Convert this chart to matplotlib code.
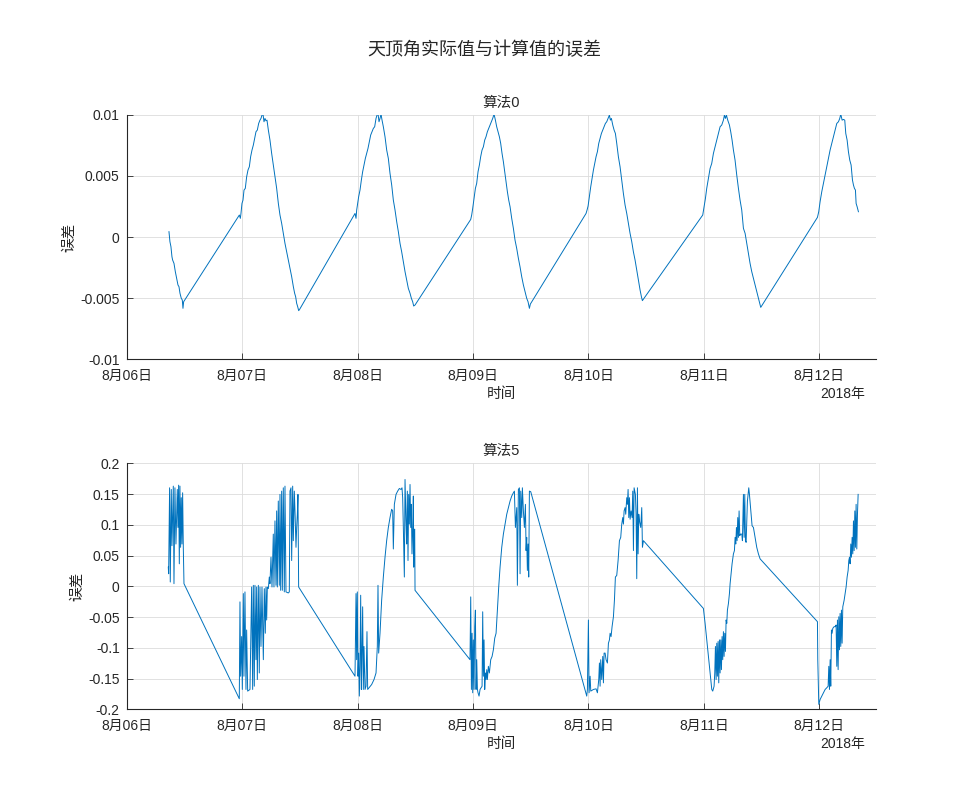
import datetime as dt
import matplotlib
matplotlib.use("Agg")
import matplotlib.pyplot as plt
import matplotlib.dates as mdates
from matplotlib.ticker import FixedLocator, FuncFormatter

plt.rcParams['font.family'] = ['Liberation Sans', 'Noto Sans CJK SC', 'DejaVu Sans']

# Reference instant of the time axis
t0 = dt.datetime(2018, 8, 6)

# ---------------- 算法0: hours after t0 and zenith-angle error ----------------
alg0_hours = [
    8.80, 9.00, 9.21, 9.42, 9.56, 9.84, 10.12, 10.39, 10.67, 10.88, 11.09, 11.36, 11.57, 11.71, 11.85,
    23.43, 23.64, 23.77, 23.98, 24.19, 24.40, 24.67, 24.95, 25.23, 25.51, 25.78, 26.06, 26.34, 26.61,
    26.89, 27.17, 27.45, 27.72, 27.93, 28.14, 28.35, 28.56, 28.76, 28.97, 29.18, 29.46, 29.80, 30.15,
    30.50, 30.84, 31.19, 31.54, 31.88, 32.23, 32.58, 32.92, 33.27, 33.62, 33.96, 34.31, 34.66, 34.93,
    35.14, 35.35, 35.56, 35.77, 35.97,
    47.48, 47.69, 47.83, 48.03, 48.24, 48.52, 48.80, 49.07, 49.35, 49.63, 49.91, 50.18, 50.46, 50.74,
    51.02, 51.29, 51.57, 51.85, 52.06, 52.26, 52.47, 52.68, 52.89, 53.10, 53.37, 53.72, 54.07, 54.41,
    54.76, 55.11, 55.45, 55.80, 56.15, 56.49, 56.84, 57.18, 57.53, 57.88, 58.22, 58.57, 58.92, 59.20,
    59.47, 59.68, 59.96,
    71.54, 71.74, 71.95, 72.23, 72.51, 72.78, 73.06, 73.34, 73.61, 73.89, 74.17, 74.45, 74.72, 75.00,
    75.28, 75.56, 75.83, 76.11, 76.39, 76.67, 76.94, 77.22, 77.50, 77.77, 78.05, 78.33, 78.61, 78.88,
    79.16, 79.44, 79.72, 80.06, 80.41, 80.75, 81.10, 81.45, 81.79, 82.14, 82.49, 82.83, 83.18, 83.46,
    83.74, 83.94,
    95.52, 95.73, 95.94, 96.21, 96.49, 96.77, 97.05, 97.32, 97.60, 97.88, 98.16, 98.43, 98.71, 98.99,
    99.27, 99.54, 99.82, 100.10, 100.37, 100.58, 100.79, 101.07, 101.35, 101.62, 101.90, 102.24,
    102.59, 102.94, 103.28, 103.63, 103.98, 104.32, 104.67, 105.02, 105.36, 105.71, 106.06, 106.40,
    106.75, 107.03, 107.23,
    119.78, 120.06, 120.34, 120.61, 120.96, 121.31, 121.65, 122.00, 122.35, 122.69, 123.04, 123.39,
    123.73, 124.08, 124.29, 124.50, 124.70, 124.98, 125.33, 125.60, 125.88, 126.16, 126.50, 126.85,
    127.20, 127.54, 127.89, 128.24, 128.59, 128.93, 129.28, 129.62, 129.97, 130.32, 130.66, 131.01,
    131.36, 131.64, 131.84,
    143.63, 143.90, 144.18, 144.53, 144.88, 145.22, 145.57, 145.92, 146.26, 146.61, 146.96, 147.30,
    147.65, 148.00, 148.27, 148.48, 148.76, 149.04, 149.31, 149.52, 149.80, 150.07, 150.35, 150.63,
    150.91, 151.12, 151.32, 151.53, 151.67, 151.88, 152.15,
]
alg0_err = [
    0.00044, -0.00038, -0.00079, -0.00161, -0.00188, -0.00215, -0.00283, -0.00338, -0.00392, -0.00406,
    -0.00460, -0.00501, -0.00515, -0.00583, -0.00529,
    0.00180, 0.00153, 0.00193, 0.00275, 0.00302, 0.00384, 0.00398, 0.00493, 0.00548, 0.00575, 0.00657,
    0.00711, 0.00752, 0.00807, 0.00861, 0.00875, 0.00929, 0.00956, 0.00970, 0.00997, 0.01005, 0.00943,
    0.00970, 0.00951, 0.00956, 0.00875, 0.00793, 0.00684, 0.00589, 0.00493, 0.00398, 0.00275, 0.00180,
    0.00112, 0.00030, -0.00052, -0.00120, -0.00188, -0.00256, -0.00324, -0.00406, -0.00460, -0.00488,
    -0.00542, -0.00569, -0.00602, -0.00591,
    0.00193, 0.00153, 0.00221, 0.00275, 0.00330, 0.00384, 0.00466, 0.00534, 0.00589, 0.00643, 0.00684,
    0.00725, 0.00779, 0.00834, 0.00861, 0.00888, 0.00902, 0.00970, 0.00997, 0.01011, 0.00943, 0.00970,
    0.01005, 0.00956, 0.00902, 0.00820, 0.00711, 0.00643, 0.00520, 0.00425, 0.00302, 0.00221, 0.00125,
    0.00044, -0.00052, -0.00120, -0.00202, -0.00283, -0.00351, -0.00420, -0.00460, -0.00501, -0.00529,
    -0.00564, -0.00556,
    0.00144, 0.00180, 0.00234, 0.00316, 0.00398, 0.00439, 0.00534, 0.00589, 0.00657, 0.00711, 0.00738,
    0.00793, 0.00820, 0.00861, 0.00888, 0.00916, 0.00943, 0.00970, 0.01005, 0.00956, 0.00902, 0.00861,
    0.00820, 0.00766, 0.00684, 0.00616, 0.00534, 0.00452, 0.00371, 0.00302, 0.00248, 0.00153, 0.00071,
    -0.00025, -0.00093, -0.00174, -0.00243, -0.00324, -0.00392, -0.00447, -0.00501, -0.00529, -0.00583,
    -0.00548,
    0.00193, 0.00221, 0.00253, 0.00330, 0.00411, 0.00480, 0.00548, 0.00602, 0.00657, 0.00698, 0.00766,
    0.00807, 0.00847, 0.00875, 0.00902, 0.00929, 0.00943, 0.00970, 0.00997, 0.00956, 0.00970, 0.00916,
    0.00875, 0.00847, 0.00766, 0.00657, 0.00575, 0.00466, 0.00357, 0.00262, 0.00193, 0.00112, 0.00030,
    -0.00038, -0.00120, -0.00188, -0.00270, -0.00351, -0.00433, -0.00488, -0.00520,
    0.00180, 0.00248, 0.00316, 0.00398, 0.00480, 0.00561, 0.00602, 0.00684, 0.00738, 0.00793, 0.00847,
    0.00902, 0.00916, 0.00956, 0.00997, 0.00970, 0.00997, 0.00956, 0.00916, 0.00861, 0.00793, 0.00711,
    0.00629, 0.00507, 0.00398, 0.00302, 0.00221, 0.00071, 0.00030, -0.00052, -0.00134, -0.00215,
    -0.00283, -0.00338, -0.00392, -0.00447, -0.00501, -0.00542, -0.00575,
    0.00161, 0.00207, 0.00289, 0.00371, 0.00439, 0.00507, 0.00575, 0.00643, 0.00711, 0.00766, 0.00820,
    0.00875, 0.00929, 0.00943, 0.00970, 0.01005, 0.00956, 0.00962, 0.00956, 0.00847, 0.00793, 0.00698,
    0.00629, 0.00589, 0.00466, 0.00425, 0.00398, 0.00384, 0.00275, 0.00248, 0.00207,
]

# ---------------- 算法5: hours after t0 and zenith-angle error ----------------
alg5_hours = [
    8.66, 8.73, 8.93, 9.07, 9.28, 9.42, 9.70, 9.84, 10.04, 10.25, 10.53, 10.67, 10.81, 10.95, 11.08,
    11.22, 11.36, 11.50, 11.64, 11.78, 11.92,
    23.42, 23.56, 23.70, 23.91, 24.05, 24.26, 24.39, 24.60, 24.81, 24.95, 25.16, 25.64, 25.99, 26.20,
    26.34, 26.54, 26.68, 26.89, 27.03, 27.17, 27.38, 27.58, 27.72, 27.93, 28.14, 28.42, 28.62, 28.83,
    28.97, 29.11, 29.25, 29.46, 29.66, 29.80, 30.01, 30.22, 30.49, 30.63, 30.84, 31.05, 31.19, 31.33,
    31.53, 31.74, 31.88, 32.02, 32.23, 32.37, 32.57, 32.78, 32.92, 33.13, 33.61, 33.82, 33.96, 34.17,
    34.31, 34.52, 34.65, 34.86, 35.00, 35.21, 35.35, 35.49, 35.62, 35.76,
    47.48, 47.69, 47.82, 47.96, 48.10, 48.24, 48.38, 48.52, 48.66, 48.80, 48.93, 49.07, 49.21, 49.35,
    49.56, 49.77, 49.97, 50.11, 50.39, 50.94, 51.43, 51.85, 51.98, 52.12, 52.26, 52.40, 52.68, 53.02,
    53.37, 53.72, 54.06, 54.41, 54.76, 55.10, 55.31, 55.45, 55.66, 56.01, 56.35, 56.70, 57.04, 57.25,
    57.39, 57.53, 57.74, 57.88, 58.08, 58.22, 58.36, 58.50, 58.64, 58.78, 58.92, 59.06, 59.19, 59.33,
    59.47, 59.61, 59.68, 59.75, 59.89, 59.96,
    71.39, 71.54, 71.68, 71.82, 71.95, 72.09, 72.23, 72.37, 72.51, 72.65, 72.79, 72.93, 73.06, 73.27,
    73.48, 73.69, 73.90, 74.03, 74.17, 74.31, 74.45, 74.59, 74.73, 74.87, 75.00, 75.21, 75.42, 75.70,
    75.98, 76.25, 76.53, 76.81, 77.08, 77.36, 77.64, 77.99, 78.33, 78.68, 79.03, 79.37, 79.72, 80.07,
    80.41, 80.62, 80.83, 81.11, 81.24, 81.45, 81.66, 81.80, 81.94, 82.15, 82.28, 82.49, 82.70, 82.91,
    83.05, 83.18, 83.32, 83.46, 83.60, 83.74, 84.02,
    95.66, 95.80, 96.01, 96.15, 96.36, 96.50, 97.05, 97.60, 97.88, 98.16, 98.30, 98.44, 98.57, 98.78,
    98.99, 99.13, 99.27, 99.48, 99.68, 99.96, 100.17, 100.38, 100.52, 100.72, 100.93, 101.21, 101.42,
    101.62, 101.90, 102.18, 102.46, 102.73, 102.94, 103.15, 103.29, 103.43, 103.64, 103.77, 103.98,
    104.12, 104.26, 104.40, 104.54, 104.68, 104.88, 105.09, 105.23, 105.37, 105.51, 105.65, 105.78,
    105.92, 106.06, 106.20, 106.34, 106.48, 106.62, 106.89, 107.10, 107.24, 107.45,
    119.92, 120.27, 120.62, 120.96, 121.31, 121.66, 121.86, 122.14, 122.28, 122.42, 122.56, 122.70,
    122.83, 122.97, 123.11, 123.25, 123.39, 123.53, 123.67, 123.80, 123.94, 124.08, 124.22, 124.36,
    124.50, 124.64, 124.78, 124.91, 125.12, 125.33, 125.47, 125.68, 125.88, 126.16, 126.37, 126.51,
    126.65, 126.79, 126.92, 127.06, 127.20, 127.34, 127.48, 127.62, 127.90, 128.03, 128.24, 128.38,
    128.52, 128.66, 128.80, 129.07, 129.35, 129.49, 129.77, 130.04, 130.32, 130.67, 131.01, 131.36,
    131.71,
    143.63, 143.70, 143.91, 144.19, 144.53, 144.88, 145.23, 145.57, 145.85, 145.99, 146.13, 146.27,
    146.40, 146.54, 146.68, 146.82, 147.10, 147.37, 147.51, 147.65, 147.79, 147.93, 148.07, 148.21,
    148.34, 148.48, 148.62, 148.76, 148.90, 149.04, 149.18, 149.38, 149.59, 149.80, 150.01, 150.15,
    150.29, 150.42, 150.56, 150.70, 150.84, 150.98, 151.12, 151.26, 151.40, 151.53, 151.67, 151.81,
    151.95, 152.09,
]
alg5_err = [
    0.0312, 0.0204, 0.1602, 0.0070, 0.1575, 0.0661, 0.1629, 0.0043, 0.1602, 0.0688, 0.1575, 0.0957,
    0.1645, 0.0366, 0.1629, 0.0634, 0.1441, 0.0688, 0.1521, 0.0634, 0.0043,
    -0.1828, -0.0253, -0.1462, -0.0817, -0.1677, -0.0118, -0.1462, -0.0091, -0.1677, -0.0710, -0.1704,
    -0.1677, -0.0011, -0.1677, 0.0016, -0.1624, 0.0016, -0.1193, -0.0011, -0.1516, 0.0016, -0.1409,
    -0.0011, -0.0978, -0.0011, -0.1193, -0.0038, -0.0763, -0.0011, -0.0548, -0.0011, -0.0038, 0.0151,
    0.0043, 0.0473, -0.0011, 0.0849, -0.0011, 0.1064, 0.0016, 0.1226, -0.0011, 0.1387, 0.0016, 0.1495,
    -0.0065, 0.1548, -0.0065, 0.1602, -0.0091, 0.1629, -0.0091, -0.0108, -0.0091, 0.1548, 0.1602,
    0.0419, 0.1629, 0.0742, 0.1548, 0.1226, 0.0634, 0.0957, 0.1172, 0.1495, -0.0011,
    -0.1462, -0.0118, -0.1193, -0.0091, -0.1462, -0.1086, -0.1785, -0.1301, -0.0145, -0.1677, -0.1086,
    -0.0333, -0.1677, -0.0978, -0.1677, -0.1624, -0.0737, -0.1677, -0.1650, -0.1597, -0.1516, -0.1409,
    -0.1193, -0.0978, 0.0016, -0.1086, -0.0763, -0.0226, 0.0151, 0.0473, 0.0742, 0.0957, 0.1118,
    0.1253, 0.1226, 0.0607, 0.1333, 0.1495, 0.1548, 0.1591, 0.1575, 0.1602, 0.1441, 0.0957, 0.0151,
    0.1737, 0.1064, 0.0688, 0.1548, 0.0419, 0.1495, 0.1011, 0.1656, 0.0957, 0.1333, 0.0527, 0.0903,
    0.1468, 0.0312, 0.0903, 0.0930, -0.0065,
    -0.1193, -0.0172, -0.1677, -0.0763, -0.1731, -0.0871, -0.1677, -0.0656, -0.0387, -0.1677, -0.1193,
    -0.1677, -0.1731, -0.1785, -0.1677, -0.1650, -0.1624, -0.0414, -0.1462, -0.0871, -0.1677, -0.1409,
    -0.1516, -0.1355, -0.1516, -0.1301, -0.1409, -0.1193, -0.1140, -0.1032, -0.0844, -0.0763, -0.0387,
    -0.0011, 0.0312, 0.0634, 0.0849, 0.1011, 0.1172, 0.1280, 0.1387, 0.1468, 0.1521, 0.1548, 0.0957,
    0.1280, 0.0016, 0.1575, 0.1602, 0.0204, 0.1548, 0.1118, 0.1602, 0.1226, 0.0957, 0.1333, 0.0581,
    0.0796, 0.0258, 0.0688, 0.0151, 0.1548, 0.1538,
    -0.1785, -0.1677, -0.0548, -0.1731, -0.1462, -0.1704, -0.1677, -0.1667, -0.1731, -0.1516, -0.1247,
    -0.1624, -0.1193, -0.1516, -0.1140, -0.1570, -0.1086, -0.1086, -0.1193, -0.1247, -0.0925, -0.0871,
    -0.0763, -0.0817, -0.0656, -0.0495, -0.0226, 0.0151, 0.0177, 0.0419, 0.0742, 0.0796, 0.1011,
    0.1118, 0.1011, 0.1226, 0.1280, 0.1172, 0.1441, 0.1333, 0.1575, 0.1118, 0.1441, 0.1091, 0.1226,
    0.1118, 0.1548, 0.0581, 0.1602, 0.1548, 0.1495, 0.1172, 0.0124, 0.1602, 0.0527, 0.1172, 0.1064,
    0.0957, 0.1280, 0.0634, 0.0742,
    -0.0360, -0.0602, -0.0871, -0.1140, -0.1409, -0.1677, -0.1704, -0.1624, -0.1409, -0.0978, -0.1516,
    -0.0925, -0.1462, -0.0898, -0.1570, -0.0871, -0.1409, -0.0871, -0.1355, -0.0817, -0.1193, -0.0737,
    -0.1140, -0.0763, -0.1059, -0.0548, -0.0602, -0.0387, -0.0280, -0.0118, 0.0043, 0.0204, 0.0366,
    0.0527, 0.0581, 0.0796, 0.0688, 0.0957, 0.0742, 0.1118, 0.0796, 0.1226, 0.0823, 0.0849, 0.0849,
    0.0742, 0.1495, 0.0796, 0.1495, 0.0742, 0.0715, 0.1387, 0.1602, 0.1495, 0.1226, 0.0984, 0.0957,
    0.0796, 0.0634, 0.0527, 0.0446,
    -0.0575, -0.1193, -0.1919, -0.1839, -0.1785, -0.1731, -0.1677, -0.1650, -0.1624, -0.1301, -0.1677,
    -0.1193, -0.1624, -0.0710, -0.0763, -0.0683, -0.0656, -0.0656, -0.0629, -0.1301, -0.0548, -0.1355,
    -0.0495, -0.1032, -0.0441, -0.0978, -0.0387, -0.0925, -0.0333, -0.0280, -0.0226, -0.0118, -0.0011,
    0.0151, 0.0258, 0.0419, 0.0473, 0.0366, 0.0688, 0.0473, 0.0796, 0.0527, 0.1064, 0.0581, 0.1226,
    0.0634, 0.1333, 0.0607, 0.1172, 0.1495,
]

# Axis settings
day_ticks = [t0 + dt.timedelta(days=d) for d in range(7)]
x_end = t0 + dt.timedelta(hours=155.8)
top_yticks = [-0.01, -0.005, 0, 0.005, 0.01]
bot_yticks = [-0.2, -0.15, -0.1, -0.05, 0, 0.05, 0.1, 0.15, 0.2]

line_color = '#0072BD'
text_color = '#262626'


def to_times(hours):
    return [t0 + dt.timedelta(hours=h) for h in hours]


def day_label(x, pos):
    d = mdates.num2date(x)
    return f"{d.month}月{d.day:02d}日"


def style_axes(ax, yticks, title):
    ax.set_xlim(t0, x_end)
    ax.set_ylim(yticks[0], yticks[-1])
    ax.xaxis.set_major_locator(FixedLocator(mdates.date2num(day_ticks)))
    ax.xaxis.set_major_formatter(FuncFormatter(day_label))
    ax.yaxis.set_major_locator(FixedLocator(yticks))
    ax.yaxis.set_major_formatter(FuncFormatter(lambda v, p: f"{v:g}"))
    for s in ('top', 'right'):
        ax.spines[s].set_visible(False)
    for s in ('left', 'bottom'):
        ax.spines[s].set_color(text_color)
        ax.spines[s].set_linewidth(0.8)
    ax.tick_params(direction='in', length=4, width=0.6, colors=text_color, labelsize=10)
    ax.tick_params(axis='x', pad=7)
    ax.tick_params(axis='y', pad=5)
    ax.grid(True, color='#dcdcdc', linewidth=0.6)
    ax.set_axisbelow(True)
    ax.set_title(title, fontsize=10.5, color=text_color, pad=6)
    ax.set_xlabel('时间', fontsize=10.5, color=text_color, labelpad=3)
    ax.set_ylabel('误差', fontsize=10.5, color=text_color, labelpad=3)
    ax.text(0.956, -0.14, '2018年', transform=ax.transAxes, ha='center', va='center',
            fontsize=10, color=text_color)


fig = plt.figure(figsize=(9.69, 7.92), dpi=100)
ax_top = fig.add_axes([0.1307, 0.5463, 0.7733, 0.3088])
ax_bot = fig.add_axes([0.1307, 0.1044, 0.7733, 0.3106])

ax_top.plot(to_times(alg0_hours), alg0_err, color=line_color, linewidth=0.7)
ax_bot.plot(to_times(alg5_hours), alg5_err, color=line_color, linewidth=0.7)

style_axes(ax_top, top_yticks, '算法0')
style_axes(ax_bot, bot_yticks, '算法5')

fig.suptitle('天顶角实际值与计算值的误差', fontsize=13, color=text_color, y=0.947)

fig.savefig('out.png', dpi=100, facecolor='white')
